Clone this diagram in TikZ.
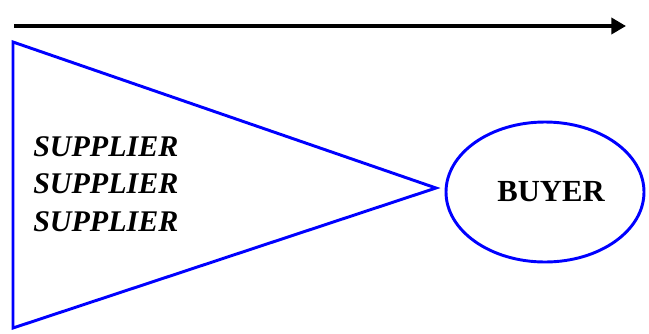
\documentclass[tikz,border=0pt]{standalone}
\usepackage{fontspec}
\setmainfont{Liberation Serif}
\usetikzlibrary{shapes.geometric, arrows.meta, positioning, calc}

\begin{document}
\begin{tikzpicture}[
    x=0.75pt, y=-0.75pt,
    party/.style={ellipse, draw=blue, line width=2.2pt, minimum width=148.5pt, minimum height=105pt, inner sep=0pt, font=\fontsize{23}{28}\selectfont\bfseries},
    group/.style={align=left, font=\fontsize{22.5}{28}\selectfont\bfseries\itshape, inner sep=0pt},
    funnel/.style={draw=blue, line width=2.2pt, line join=miter},
    flow/.style={-{Triangle[length=11pt, width=12pt]}, line width=3pt}
]
    \useasboundingbox (0,0) rectangle (649,333);

    % Flow direction
    \coordinate (start) at (14,26);
    \coordinate (end) at (626,26);
    \draw[flow] (start) -- (end);

    % Suppliers
    \coordinate (top) at (13,42);
    \coordinate (bottom) at (13,328);
    \coordinate (tip) at (436,188);
    \draw[funnel] (top) -- (tip) -- (bottom) -- cycle;
    \node[group, anchor=west] (suppliers) at (33,184) {SUPPLIER\\SUPPLIER\\SUPPLIER};

    % Buyer
    \node[party] (buyer) at (545,192) {\hspace{9pt}BUYER};

\end{tikzpicture}
\end{document}
